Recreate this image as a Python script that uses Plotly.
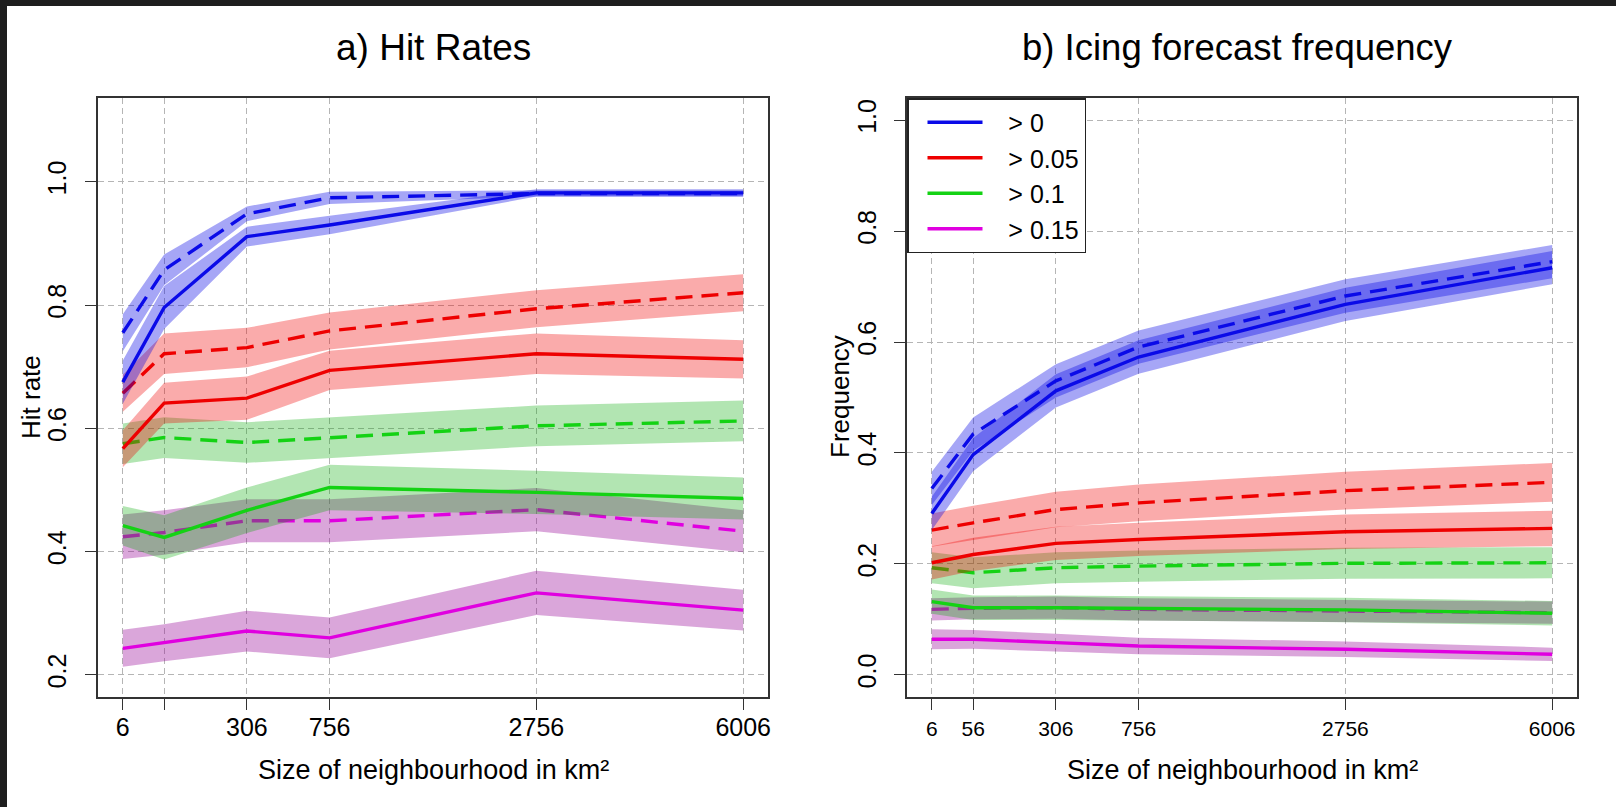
import plotly.graph_objects as go

W, H = 1616, 807

# ---------------- data ----------------
sizes = [6, 56, 306, 756, 2756, 6006]                 # neighbourhood area, km^2
side_km = [2.5, 7.5, 17.5, 27.5, 52.5, 77.5]          # neighbourhood side length (axis position)
tick_text_a = ["6", "", "306", "756", "2756", "6006"]
tick_text_b = ["6", "56", "306", "756", "2756", "6006"]
thresholds = ["> 0", "> 0.05", "> 0.1", "> 0.15"]

# a) Hit rates: solid and dashed series with band half-widths
hit_solid_t0 = [0.675, 0.796, 0.911, 0.930, 0.982, 0.982]
hit_solid_t0_err = [0.035, 0.035, 0.016, 0.015, 0.006, 0.006]
hit_dash_t0 = [0.755, 0.857, 0.948, 0.974, 0.981, 0.981]
hit_dash_t0_err = [0.030, 0.025, 0.012, 0.010, 0.005, 0.005]

hit_solid_t005 = [0.567, 0.641, 0.649, 0.694, 0.721, 0.712]
hit_solid_t005_err = [0.030, 0.033, 0.035, 0.032, 0.033, 0.031]
hit_dash_t005 = [0.657, 0.721, 0.731, 0.758, 0.794, 0.820]
hit_dash_t005_err = [0.030, 0.033, 0.032, 0.030, 0.030, 0.030]

hit_solid_t01 = [0.442, 0.423, 0.467, 0.504, 0.496, 0.486]
hit_solid_t01_err = [0.032, 0.036, 0.037, 0.037, 0.035, 0.034]
hit_dash_t01 = [0.575, 0.585, 0.577, 0.585, 0.604, 0.612]
hit_dash_t01_err = [0.033, 0.033, 0.033, 0.033, 0.033, 0.033]

hit_solid_t015 = [0.243, 0.252, 0.271, 0.260, 0.333, 0.305]
hit_solid_t015_err = [0.030, 0.030, 0.033, 0.033, 0.036, 0.033]
hit_dash_t015 = [0.424, 0.431, 0.450, 0.450, 0.468, 0.433]
hit_dash_t015_err = [0.036, 0.036, 0.035, 0.035, 0.035, 0.034]

# b) Icing forecast frequency
freq_solid_t0 = [0.291, 0.397, 0.512, 0.573, 0.668, 0.734]
freq_solid_t0_err = [0.030, 0.030, 0.030, 0.030, 0.030, 0.030]
freq_dash_t0 = [0.336, 0.434, 0.530, 0.591, 0.683, 0.745]
freq_dash_t0_err = [0.030, 0.030, 0.030, 0.030, 0.030, 0.030]

freq_solid_t005 = [0.202, 0.217, 0.237, 0.244, 0.258, 0.264]
freq_solid_t005_err = [0.030, 0.030, 0.030, 0.030, 0.031, 0.032]
freq_dash_t005 = [0.261, 0.274, 0.298, 0.310, 0.332, 0.347]
freq_dash_t005_err = [0.030, 0.031, 0.032, 0.033, 0.034, 0.035]

freq_solid_t01 = [0.132, 0.121, 0.121, 0.120, 0.117, 0.111]
freq_solid_t01_err = [0.022, 0.022, 0.022, 0.022, 0.022, 0.022]
freq_dash_t01 = [0.193, 0.184, 0.193, 0.196, 0.201, 0.202]
freq_dash_t01_err = [0.028, 0.028, 0.028, 0.028, 0.028, 0.028]

freq_solid_t015 = [0.064, 0.064, 0.058, 0.052, 0.046, 0.037]
freq_solid_t015_err = [0.018, 0.017, 0.016, 0.015, 0.014, 0.012]
freq_dash_t015 = [0.118, 0.120, 0.121, 0.118, 0.115, 0.112]
freq_dash_t015_err = [0.020, 0.020, 0.020, 0.020, 0.020, 0.020]

line_colors = ["#0a0ae8", "#ee0000", "#14d214", "#e000e0"]
band_colors = ["rgba(0,0,230,0.35)", "rgba(240,0,0,0.33)",
               "rgba(0,170,0,0.30)", "rgba(150,0,150,0.35)"]

panel_a = [
    (hit_solid_t0, hit_solid_t0_err, hit_dash_t0, hit_dash_t0_err),
    (hit_solid_t005, hit_solid_t005_err, hit_dash_t005, hit_dash_t005_err),
    (hit_solid_t01, hit_solid_t01_err, hit_dash_t01, hit_dash_t01_err),
    (hit_solid_t015, hit_solid_t015_err, hit_dash_t015, hit_dash_t015_err),
]
panel_b = [
    (freq_solid_t0, freq_solid_t0_err, freq_dash_t0, freq_dash_t0_err),
    (freq_solid_t005, freq_solid_t005_err, freq_dash_t005, freq_dash_t005_err),
    (freq_solid_t01, freq_solid_t01_err, freq_dash_t01, freq_dash_t01_err),
    (freq_solid_t015, freq_solid_t015_err, freq_dash_t015, freq_dash_t015_err),
]

FONT = "Liberation Sans, Arial, Helvetica, sans-serif"
NBSP = "\u00a0"
fig = go.Figure()


def band(x, y, e, color, xa, ya):
    up = [v + d for v, d in zip(y, e)]
    lo = [v - d for v, d in zip(y, e)]
    return go.Scatter(x=list(x) + list(x)[::-1], y=up + lo[::-1], fill="toself",
                      fillcolor=color, line=dict(width=0), mode="lines",
                      hoverinfo="skip", showlegend=False, xaxis=xa, yaxis=ya)


for panel, xa, ya in [(panel_a, "x", "y"), (panel_b, "x2", "y2")]:
    # drawn in reverse threshold order, each: bands then lines
    for i in reversed(range(4)):
        s, se, d, de = panel[i]
        fig.add_trace(band(side_km, s, se, band_colors[i], xa, ya))
        fig.add_trace(band(side_km, d, de, band_colors[i], xa, ya))
        fig.add_trace(go.Scatter(
            x=side_km, y=s, mode="lines", name=NBSP * 3 + thresholds[i],
            line=dict(color=line_colors[i], width=3.4),
            showlegend=(xa == "x2"), legendrank=i + 1, legendgroup=thresholds[i],
            xaxis=xa, yaxis=ya))
        fig.add_trace(go.Scatter(
            x=side_km, y=d, mode="lines", name=thresholds[i] + " (dashed)",
            line=dict(color=line_colors[i], width=3.4, dash="17px,9px"),
            showlegend=False, xaxis=xa, yaxis=ya))


def px_x(p):
    return p / W


def px_y(p):
    return 1 - p / H


common_axis = dict(showline=True, linecolor="#333", linewidth=1.5, mirror=True,
                   ticks="outside", ticklen=11, tickwidth=1.3, tickcolor="#333",
                   showgrid=True, gridcolor="#b5b5b5", griddash="6px,4px", gridwidth=1,
                   zeroline=False, automargin=False)

fig.update_layout(
    width=W, height=H,
    margin=dict(l=0, r=0, t=0, b=0),
    paper_bgcolor="white", plot_bgcolor="white",
    font=dict(family=FONT, color="black"),
    xaxis=dict(domain=[px_x(98), px_x(768)], range=[-0.5, 80.5],
               tickvals=side_km, ticktext=tick_text_a,
               tickfont=dict(size=25), ticklabelstandoff=-4, **common_axis),
    yaxis=dict(domain=[px_y(697), px_y(98)], range=[0.164, 1.136],
               tickvals=[0.2, 0.4, 0.6, 0.8, 1.0],
               ticktext=["0.2", "0.4", "0.6", "0.8", "1.0"],
               tickangle=-90, tickfont=dict(size=25), ticklabelstandoff=9,
               **common_axis),
    xaxis2=dict(domain=[px_x(907), px_x(1577)], range=[-0.5, 80.5],
                tickvals=side_km, ticktext=tick_text_b, anchor="y2",
                tickfont=dict(size=21), ticklabelstandoff=1, **common_axis),
    yaxis2=dict(domain=[px_y(697), px_y(98)], range=[-0.04, 1.04], anchor="x2",
                tickvals=[0.0, 0.2, 0.4, 0.6, 0.8, 1.0],
                ticktext=["0.0", "0.2", "0.4", "0.6", "0.8", "1.0"],
                tickangle=-90, tickfont=dict(size=25), ticklabelstandoff=8,
                **common_axis),
    legend=dict(x=px_x(907), y=px_y(98), xanchor="left", yanchor="top",
                font=dict(size=25, family=FONT), bordercolor="#222", borderwidth=1.5,
                bgcolor="white", itemwidth=55, traceorder="normal",
                indentation=14, tracegroupgap=0),
    showlegend=True,
)

ann = [
    dict(text="a) Hit Rates", x=px_x(433), y=px_y(48), font=dict(size=37)),
    dict(text="b) Icing forecast frequency", x=px_x(1237), y=px_y(48), font=dict(size=36.5)),
    dict(text="Size of neighbourhood in km²", x=px_x(433), y=px_y(770), font=dict(size=27)),
    dict(text="Size of neighbourhood in km²", x=px_x(1242), y=px_y(770), font=dict(size=27)),
    dict(text="Hit rate", x=px_x(31), y=px_y(397), font=dict(size=26), textangle=-90),
    dict(text="Frequency", x=px_x(840), y=px_y(397), font=dict(size=26), textangle=-90),
]
for a in ann:
    a.update(xref="paper", yref="paper", showarrow=False,
             xanchor="center", yanchor="middle")
    a["font"].update(family=FONT, color="black")
fig.update_layout(annotations=ann)

# dark frame strips at top and left edges of the image
fig.update_layout(shapes=[
    dict(type="rect", xref="paper", yref="paper", x0=0, x1=1, y0=px_y(6), y1=1,
         fillcolor="#1e1e1e", line=dict(width=0), layer="above"),
    dict(type="rect", xref="paper", yref="paper", x0=0, x1=px_x(7), y0=0, y1=1,
         fillcolor="#1e1e1e", line=dict(width=0), layer="above"),
])

fig.write_html("out.html")
